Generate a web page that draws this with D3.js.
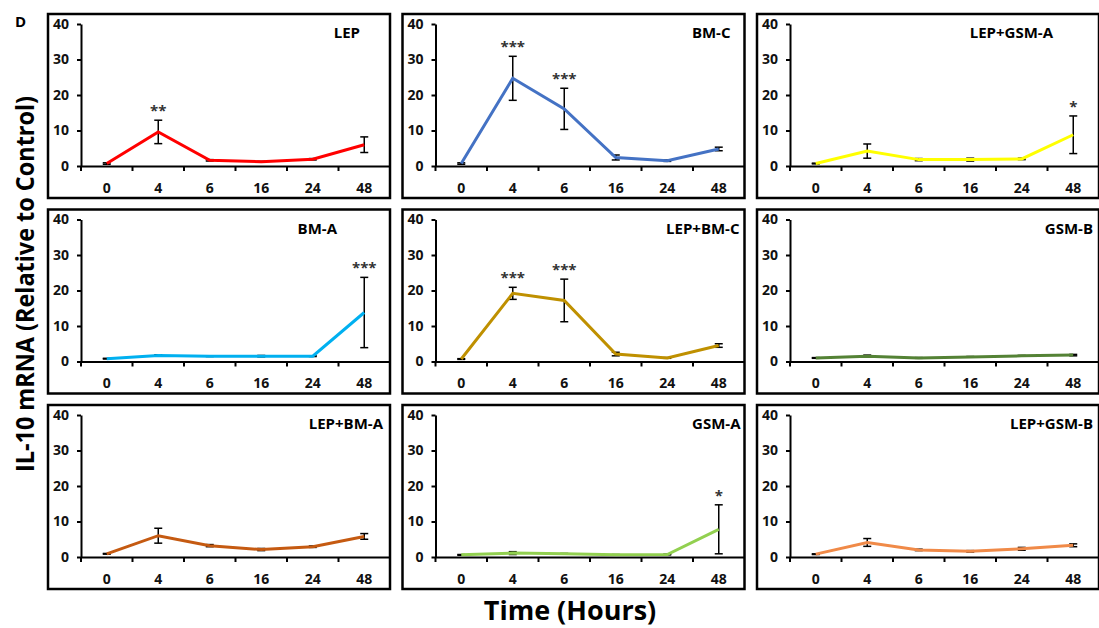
<!doctype html>
<html lang='en'>
<head>
<meta charset='UTF-8'>
<title>IL-10 mRNA</title>
<style>
  body { margin: 0; background: #fff; }
  text { font-family: 'Open Sans', sans-serif; font-weight: bold; }
  .tick text { font-size: 14px; fill: #111; }
  .domain, .tick line { stroke: #000; stroke-width: 2; }
</style>
</head>
<body>
<script src='https://d3js.org/d3.v7.min.js'></script>
<script>
  // hours sampled
  const hours = ['0', '4', '6', '16', '24', '48']
  const yTicks = [0, 10, 20, 30, 40]

  const groups = ['LEP', 'BM-C', 'LEP+GSM-A', 'BM-A', 'LEP+BM-C', 'GSM-B', 'LEP+BM-A', 'GSM-A', 'LEP+GSM-B']

  // mean values per group, same order as hours
  const lep      = [0.7, 9.6, 1.6, 1.2, 1.9, 6.0]
  const bmC      = [0.7, 24.7, 16.1, 2.4, 1.5, 4.8]
  const lepGsmA  = [0.7, 4.2, 1.8, 1.8, 2.0, 8.8]
  const bmA      = [0.8, 1.7, 1.5, 1.5, 1.5, 13.8]
  const lepBmC   = [0.7, 19.2, 17.2, 2.1, 1.0, 4.5]
  const gsmB     = [1.0, 1.5, 1.0, 1.3, 1.6, 1.8]
  const lepBmA   = [0.9, 6.0, 3.2, 2.1, 2.9, 5.8]
  const gsmA     = [0.6, 1.1, 0.9, 0.6, 0.7, 7.8]
  const lepGsmB  = [0.8, 4.1, 2.0, 1.6, 2.3, 3.3]

  // error bars (+/-)
  const lepErr     = [0.2, 3.3, 0.2, 0.1, 0.2, 2.2]
  const bmCErr     = [0.2, 6.2, 5.8, 0.7, 0.2, 0.5]
  const lepGsmAErr = [0.1, 2.0, 0.3, 0.4, 0.2, 5.3]
  const bmAErr     = [0.1, 0.2, 0.1, 0.2, 0.1, 9.9]
  const lepBmCErr  = [0.1, 1.7, 6.0, 0.5, 0.1, 0.5]
  const gsmBErr    = [0.1, 0.3, 0.1, 0.1, 0.1, 0.2]
  const lepBmAErr  = [0.1, 2.1, 0.3, 0.3, 0.2, 0.8]
  const gsmAErr    = [0.1, 0.4, 0.1, 0.1, 0.1, 6.9]
  const lepGsmBErr = [0.1, 1.1, 0.2, 0.2, 0.4, 0.4]

  // significance marks
  const lepSig     = ['', '**', '', '', '', '']
  const bmCSig     = ['', '***', '***', '', '', '']
  const lepGsmASig = ['', '', '', '', '', '*']
  const bmASig     = ['', '', '', '', '', '***']
  const lepBmCSig  = ['', '***', '***', '', '', '']
  const gsmBSig    = ['', '', '', '', '', '']
  const lepBmASig  = ['', '', '', '', '', '']
  const gsmASig    = ['', '', '', '', '', '*']
  const lepGsmBSig = ['', '', '', '', '', '']

  const means = [lep, bmC, lepGsmA, bmA, lepBmC, gsmB, lepBmA, gsmA, lepGsmB]
  const errs = [lepErr, bmCErr, lepGsmAErr, bmAErr, lepBmCErr, gsmBErr, lepBmAErr, gsmAErr, lepGsmBErr]
  const sigs = [lepSig, bmCSig, lepGsmASig, bmASig, lepBmCSig, gsmBSig, lepBmASig, gsmASig, lepGsmBSig]

  const colors = ['#ff0000', '#4472c4', '#ffff00', '#00b0f0', '#bf9000', '#548235', '#c55a11', '#92d050', '#f08a48']
  // right edge of each panel title, relative to the panel box
  const titleRight = [312, 328, 296, 289, 337, 336, 335, 338, 336]

  const W = 1099, H = 628
  const boxW = 342, boxH = 184

  const svg = d3.select('body').append('svg')
    .attr('width', W)
    .attr('height', H)

  svg.append('text')
    .attr('x', 15)
    .attr('y', 27)
    .style('font-size', '15px')
    .text('D')

  svg.append('text')
    .attr('transform', 'translate(34, 284) rotate(-90)')
    .attr('text-anchor', 'middle')
    .attr('textLength', 376)
    .attr('lengthAdjust', 'spacingAndGlyphs')
    .style('font-size', '25px')
    .text('IL-10 mRNA (Relative to Control)')

  svg.append('text')
    .attr('x', 570)
    .attr('y', 620)
    .attr('text-anchor', 'middle')
    .style('font-size', '27px')
    .text('Time (Hours)')

  groups.forEach((name, i) => {
    const col = i % 3, row = Math.floor(i / 3)
    const left = 48 + col * 354.5
    const top = 14 + row * 195.5

    const g = svg.append('g')
      .attr('transform', `translate(${left}, ${top})`)

    g.append('rect')
      .attr('width', boxW)
      .attr('height', boxH)
      .attr('fill', 'none')
      .attr('stroke', '#000')
      .attr('stroke-width', 2.5)

    const x = d3.scaleBand()
      .domain(hours)
      .range([33, boxW])

    const y = d3.scaleLinear()
      .domain([0, 40])
      .range([152, 10])

    g.append('g')
      .attr('transform', `translate(0, ${y(0)})`)
      .call(d3.axisBottom(x)
        .tickSizeInner(0)
        .tickSizeOuter(0)
        .tickPadding(17))

    // x tick marks between categories
    g.append('g')
      .selectAll('line')
      .data(d3.range(hours.length))
      .join('line')
      .attr('x1', d => x(hours[d]))
      .attr('x2', d => x(hours[d]))
      .attr('y1', y(0))
      .attr('y2', y(0) + 5)
      .attr('stroke', '#000')
      .attr('stroke-width', 2)

    g.append('g')
      .attr('transform', 'translate(33, 0)')
      .call(d3.axisLeft(y)
        .tickValues(yTicks)
        .tickSizeInner(4)
        .tickSizeOuter(0)
        .tickPadding(8))

    const cx = h => x(h) + x.bandwidth() / 2
    const pts = hours.map((h, k) => ({ h, v: means[i][k], e: errs[i][k], s: sigs[i][k] }))

    const line = d3.line()
      .x(d => cx(d.h))
      .y(d => y(d.v))

    // error bars
    const eb = g.append('g')
      .attr('stroke', '#000')
      .attr('stroke-width', 1.5)
    pts.forEach(d => {
      eb.append('line')
        .attr('x1', cx(d.h)).attr('x2', cx(d.h))
        .attr('y1', y(d.v - d.e)).attr('y2', y(d.v + d.e))
      ;[d.v - d.e, d.v + d.e].forEach(v => {
        eb.append('line')
          .attr('x1', cx(d.h) - 4).attr('x2', cx(d.h) + 4)
          .attr('y1', y(v)).attr('y2', y(v))
      })
    })

    g.append('path')
      .datum(pts)
      .attr('fill', 'none')
      .attr('stroke', colors[i])
      .attr('stroke-width', 3)
      .attr('d', line)

    g.selectAll('text.sig')
      .data(pts.filter(d => d.s))
      .join('text')
      .attr('class', 'sig')
      .attr('x', d => cx(d.h))
      .attr('y', d => y(d.v + d.e) - 4)
      .attr('text-anchor', 'middle')
      .style('font-size', '15px')
      .style('fill', '#333')
      .text(d => d.s)

    g.append('text')
      .attr('x', titleRight[i])
      .attr('y', 24)
      .attr('text-anchor', 'end')
      .style('font-size', '15px')
      .text(name)
  })
</script>
</body>
</html>
